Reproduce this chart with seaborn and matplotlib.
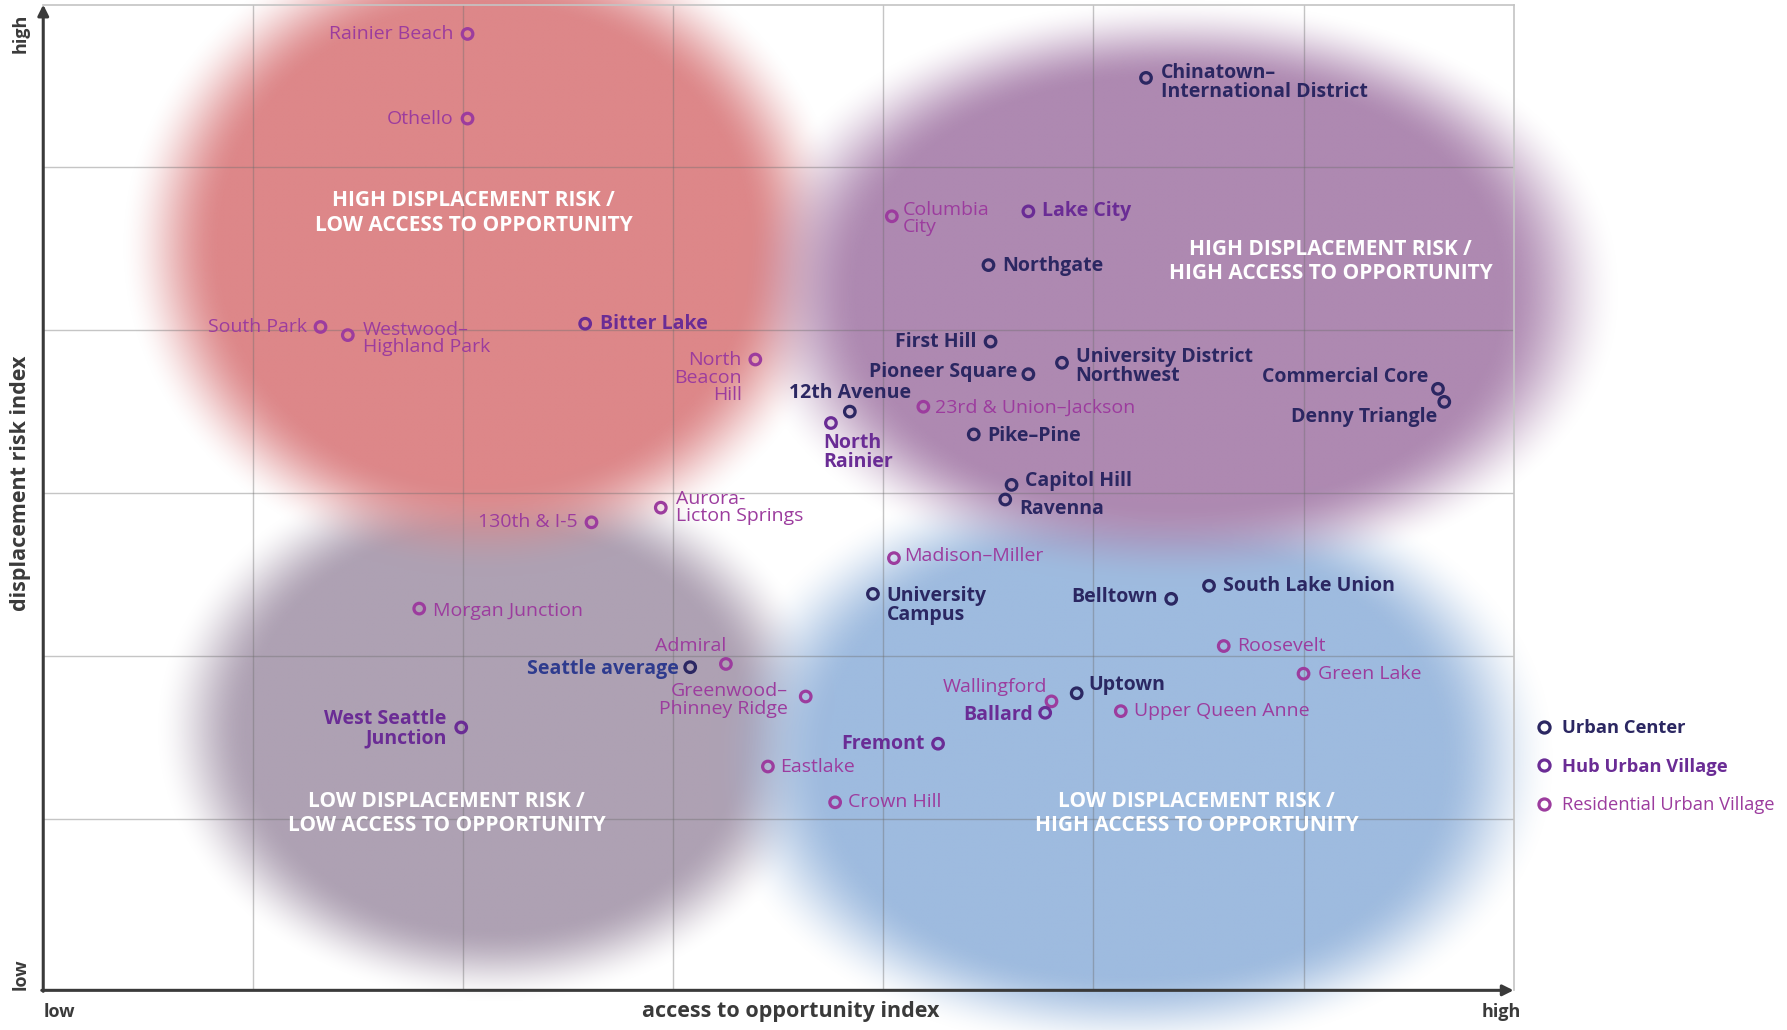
import numpy as np
import pandas as pd
import seaborn as sns
import matplotlib.pyplot as plt
import matplotlib.colors as mcolors
from matplotlib.lines import Line2D
from matplotlib.transforms import ScaledTranslation

# ---- data (x = access to opportunity, y = displacement risk)
names = ["Rainier Beach", "Othello", "South Park", "Westwood–\nHighland Park", "Bitter Lake",
         "North\nBeacon\nHill", "Columbia\nCity", "Lake City", "Northgate",
         "Chinatown–\nInternational District", "First Hill", "Pioneer Square",
         "University District\nNorthwest", "Commercial Core", "Denny Triangle", "12th Avenue",
         "North\nRainier", "23rd & Union–Jackson", "Pike–Pine", "Capitol Hill", "Ravenna",
         "Aurora-\nLicton Springs", "130th & I-5", "Madison–Miller", "University\nCampus",
         "Belltown", "South Lake Union", "Roosevelt", "Green Lake", "Morgan Junction", "Admiral",
         "Seattle average", "Greenwood–\nPhinney Ridge", "Wallingford", "Ballard", "Uptown",
         "Upper Queen Anne", "West Seattle\nJunction", "Fremont", "Eastlake", "Crown Hill"]
access = [2.02, 2.02, 1.32, 1.45, 2.58,
          3.39, 4.04, 4.69, 4.50,
          5.25, 4.51, 4.69,
          4.85, 6.64, 6.67, 3.84,
          3.75, 4.19, 4.43, 4.61, 4.58,
          2.94, 2.61, 4.05, 3.95,
          5.37, 5.55, 5.62, 6.00, 1.79, 3.25,
          3.08, 3.63, 4.80, 4.77, 4.92,
          5.13, 1.99, 4.26, 3.45, 3.77]
risk = [5.82, 5.30, 4.02, 3.97, 4.04,
        3.82, 4.70, 4.73, 4.40,
        5.55, 3.93, 3.73,
        3.80, 3.64, 3.56, 3.50,
        3.43, 3.53, 3.36, 3.05, 2.96,
        2.91, 2.82, 2.60, 2.38,
        2.35, 2.43, 2.06, 1.89, 2.29, 1.95,
        1.93, 1.75, 1.72, 1.65, 1.77,
        1.66, 1.56, 1.46, 1.32, 1.10]
kinds = ["R", "R", "R", "R", "H",
         "R", "R", "H", "U",
         "U", "U", "U",
         "U", "U", "U", "U",
         "H", "R", "U", "U", "U",
         "R", "R", "R", "U",
         "U", "U", "R", "R", "R", "R",
         "A", "R", "R", "H", "U",
         "R", "H", "H", "R", "R"]
kind_names = {"U": "Urban Center", "H": "Hub Urban Village", "R": "Residential Urban Village"}
quadrants = ["HIGH DISPLACEMENT RISK /\nLOW ACCESS TO OPPORTUNITY",
             "HIGH DISPLACEMENT RISK /\nHIGH ACCESS TO OPPORTUNITY",
             "LOW DISPLACEMENT RISK /\nLOW ACCESS TO OPPORTUNITY",
             "LOW DISPLACEMENT RISK /\nHIGH ACCESS TO OPPORTUNITY"]

# ---- styling
marker_col = {"U": "#2b2762", "H": "#6a2c95", "R": "#9c3c9e", "A": "#2b2762"}
text_col = {"U": "#2b2762", "H": "#6a2c95", "R": "#9c3c9e", "A": "#2e3b8e"}
text_wt = {"U": "bold", "H": "bold", "R": "normal", "A": "bold"}

# label placement: ha, dx, dy (pixels of the shrunk reference, y up)
label_pos = {
    "Rainier Beach": ("right", -12, 0), "Othello": ("right", -12, 0),
    "South Park": ("right", -12, 0), "Westwood–\nHighland Park": ("left", 13, -3),
    "Bitter Lake": ("left", 13, 0), "North\nBeacon\nHill": ("right", -12, -16),
    "Columbia\nCity": ("left", 10, -2), "Lake City": ("left", 12, 0),
    "Northgate": ("left", 12, -1), "Chinatown–\nInternational District": ("left", 13, -4),
    "First Hill": ("right", -12, 0), "Pioneer Square": ("right", -10, 2),
    "University District\nNorthwest": ("left", 12, -3), "Commercial Core": ("right", -8, 10),
    "Denny Triangle": ("right", -6, -13), "12th Avenue": ("center", 0, 16),
    "North\nRainier": ("left", -7, -26), "23rd & Union–Jackson": ("left", 10, -1),
    "Pike–Pine": ("left", 12, -1), "Capitol Hill": ("left", 12, 3), "Ravenna": ("left", 12, -8),
    "Aurora-\nLicton Springs": ("left", 13, 0), "130th & I-5": ("right", -12, 0),
    "Madison–Miller": ("left", 9, 2), "University\nCampus": ("left", 12, -10),
    "Belltown": ("right", -12, 2), "South Lake Union": ("left", 12, 0),
    "Roosevelt": ("left", 12, 0), "Green Lake": ("left", 13, 0),
    "Morgan Junction": ("left", 12, -2), "Admiral": ("right", 0, 16),
    "Seattle average": ("right", -10, -2), "Greenwood–\nPhinney Ridge": ("right", -16, -3),
    "Wallingford": ("right", -4, 13), "Ballard": ("right", -11, -2), "Uptown": ("left", 10, 7),
    "Upper Queen Anne": ("left", 12, 0), "West Seattle\nJunction": ("right", -13, -1),
    "Fremont": ("right", -12, 0), "Eastlake": ("left", 11, 0), "Crown Hill": ("left", 11, 0),
}
quad_pos = [(2.05, 4.72), (6.13, 4.42), (1.92, 1.03), (5.49, 1.03)]
# soft background zones: cx, cy, rx, ry, exponent, colour
zones = [(2.15, 1.55, 1.40, 1.46, 2.0, "#aea1b3"),
         (5.19, 1.37, 1.74, 1.58, 2.1, "#9ebbdf"),
         (2.10, 4.52, 1.50, 1.75, 2.0, "#dd8789"),
         (5.41, 4.24, 1.82, 1.56, 2.1, "#ae89b1")]
feather = 0.32

sns.set_theme(style="white")
plt.rcParams["font.family"] = ["Open Sans", "DejaVu Sans"]

df = pd.DataFrame({"name": names, "access": access, "risk": risk, "kind": kinds})

fig = plt.figure(figsize=(17.87, 10.30), dpi=100)
ax = fig.add_axes([0.0242, 0.0385, 0.8228, 0.957])

# blurred quadrant zones
gx = np.linspace(-0.5, 7.6, 900)
gy = np.linspace(-0.8, 6.8, 800)
X, Y = np.meshgrid(gx, gy)
rgb = np.zeros(X.shape + (3,))
alpha = np.zeros(X.shape)
for cx, cy, rx, ry, p, col in zones:
    r = (np.abs((X - cx) / rx) ** p + np.abs((Y - cy) / ry) ** p) ** (1 / p)
    t = np.clip((1 + feather / 2 - r) / feather, 0, 1)
    a = t * t * (3 - 2 * t)
    c = np.array(mcolors.to_rgb(col))
    na = a + alpha * (1 - a)
    rgb = (c * a[..., None] + rgb * (alpha * (1 - a))[..., None]) / np.maximum(na, 1e-9)[..., None]
    alpha = na
ax.imshow(np.dstack([rgb, alpha]), extent=(gx[0], gx[-1], gy[0], gy[-1]), origin="lower",
          aspect="auto", interpolation="bilinear", zorder=0, clip_on=False)

# points
sns.scatterplot(data=df, x="access", y="risk", hue="kind", palette=marker_col,
                s=58, legend=False, ax=ax, zorder=3)
pts = ax.collections[-1]
pts.set_edgecolors(pts.get_facecolors())
pts.set_facecolors("none")
pts.set_linewidth(2.3)

k = 0.82
for _, row in df.iterrows():
    ha, dx, dy = label_pos[row["name"]]
    ax.annotate(row["name"], (row["access"], row["risk"]), xytext=(dx * k, dy * k),
                textcoords="offset points", ha=ha, va="center", multialignment=ha if ha != "center" else "left",
                color=text_col[row["kind"]], fontweight=text_wt[row["kind"]], fontsize=14,
                linespacing=0.95, zorder=4)

for txt, (qx, qy) in zip(quadrants, quad_pos):
    ax.text(qx, qy, txt, ha="center", va="center", color="white", fontweight="bold",
            fontsize=15, linespacing=1.2, zorder=4)

# axes, grid, arrows
ax.set_xlim(0, 7)
ax.set_ylim(-0.055, 6)
ax.set_xticks(range(1, 7), minor=True)
ax.set_yticks(range(1, 6), minor=True)
ax.grid(which="minor", color="#6e6e6e", alpha=0.4, lw=1.0)
ax.grid(which="major", visible=False)
ax.tick_params(which="both", length=0)
for s in ["top", "right"]:
    ax.spines[s].set_color("#c4c4c4")
    ax.spines[s].set_linewidth(1.2)
for s in ["left", "bottom"]:
    ax.spines[s].set_visible(False)
arrow = dict(arrowstyle="-|>", color="#3a3a3a", lw=2.2, mutation_scale=16, shrinkA=0, shrinkB=0)
ax.annotate("", xy=(0, 1), xytext=(0, -0.001), xycoords="axes fraction", arrowprops=arrow, annotation_clip=False)
ax.annotate("", xy=(1, 0), xytext=(-0.001, 0), xycoords="axes fraction", arrowprops=arrow, annotation_clip=False)

ax.set_xticks([0, 7], ["low", "high"])
ax.set_yticks([-0.055, 6], ["low", "high"])
ax.tick_params(axis="x", pad=9, labelsize=13, labelcolor="#3a3a3a")
ax.tick_params(axis="y", pad=10, labelsize=13, labelcolor="#3a3a3a")
xl = ax.get_xticklabels()
xl[0].set_ha("left")
xl[1].set_ha("center")
xl[1].set_transform(xl[1].get_transform() + ScaledTranslation(-0.12, 0, fig.dpi_scale_trans))
yl = ax.get_yticklabels()
for lab in xl + yl:
    lab.set_fontweight("bold")
for lab in yl:
    lab.set_rotation(90)
yl[0].set_va("bottom")
yl[1].set_va("top")
yl[1].set_transform(yl[1].get_transform() + ScaledTranslation(0, -0.09, fig.dpi_scale_trans))

ax.set_xlabel("access to opportunity index", fontsize=15.5, fontweight="bold", color="#3a3a3a")
ax.set_ylabel("displacement risk index", fontsize=15.5, fontweight="bold", color="#3a3a3a")
ax.xaxis.set_label_coords(0.5086, -0.011)
ax.yaxis.set_label_coords(-0.008, 0.514)

# legend
handles = [Line2D([], [], ls="none", marker="o", ms=8, mfc="none", mew=2.3, mec=marker_col[c])
           for c in ["U", "H", "R"]]
leg = ax.legend(handles, [kind_names[c] for c in ["U", "H", "R"]], loc="upper left",
                bbox_to_anchor=(1536.5 / 1787, 1 - 719 / 1030), bbox_transform=fig.transFigure,
                frameon=False, fontsize=13.2, handlelength=0.8, handletextpad=0.6,
                labelspacing=1.12, borderpad=0, borderaxespad=0)
for t, c in zip(leg.get_texts(), ["U", "H", "R"]):
    t.set_color(text_col[c])
    t.set_fontweight(text_wt[c])

fig.savefig("out.png", dpi=100, facecolor="white")
